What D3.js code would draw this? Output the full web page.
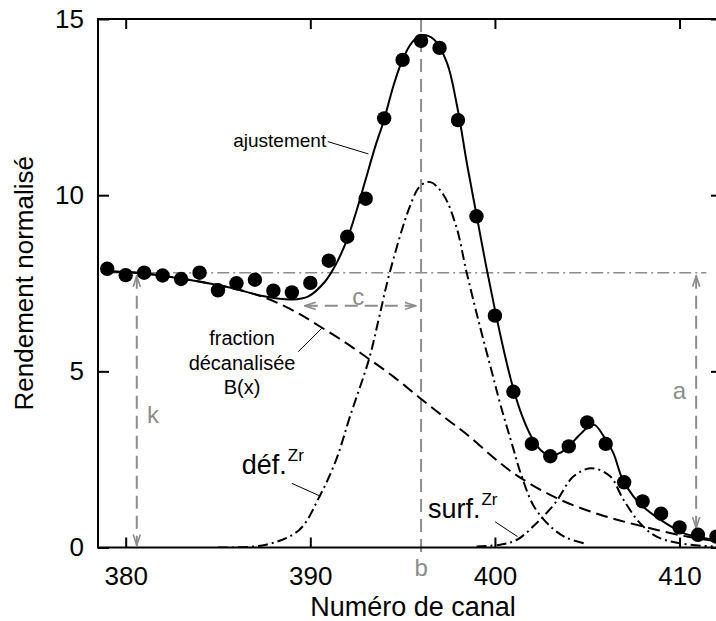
<!DOCTYPE html>
<html>
<head>
<meta charset="utf-8">
<script src="https://cdn.jsdelivr.net/npm/d3@7"></script>
<style>
  body { margin: 0; background: #fff; }
  svg { display: block; }
</style>
</head>
<body>
<svg width="716" height="621"></svg>
<script>
// measured points (channel number / normalised yield)
const channels = [379, 380, 381, 382, 383, 384, 385, 386, 387, 388, 389, 390, 391, 392, 393, 394, 395,
  396, 397, 398, 399, 400, 401, 402, 403, 404, 405, 406, 407, 408, 409, 410, 411, 412]
const yields = [7.91, 7.73, 7.80, 7.72, 7.62, 7.80, 7.30, 7.50, 7.60, 7.29, 7.24, 7.51, 8.14, 8.82, 9.90, 12.18, 13.84,
  14.38, 14.18, 12.13, 9.40, 6.58, 4.42, 2.94, 2.59, 2.87, 3.55, 2.94, 1.85, 1.31, 0.96, 0.57, 0.36, 0.31]

// fitted curve (ajustement)
const fitX = [379.0, 381.0, 383.4, 385.7, 387.5, 389.0, 389.9, 390.8, 391.4, 392.0, 392.5, 393.0, 393.5, 394.0,
  394.5, 395.0, 395.5, 396.0, 396.7, 397.4, 397.95, 398.5, 399.0, 399.5, 400.0, 400.5, 401.0, 401.5, 402.0,
  402.5, 403.0, 403.5, 404.0, 404.5, 405.1, 405.4, 405.9, 406.4, 406.9, 407.5, 408.0, 409.1, 410.2, 411.2, 412.3]
const fitY = [7.84, 7.78, 7.60, 7.37, 7.13, 7.04, 7.13, 7.55, 8.05, 8.75, 9.55, 10.45, 11.35, 12.15,
  13.10, 13.85, 14.33, 14.54, 14.42, 13.76, 12.53, 10.85, 9.45, 8.05, 6.75, 5.55, 4.50, 3.70, 3.12,
  2.75, 2.60, 2.68, 2.87, 3.15, 3.44, 3.48, 3.15, 2.70, 1.95, 1.45, 1.17, 0.74, 0.41, 0.28, 0.20]

// dechannelled fraction B(x)
const bgX = [379.0, 381.0, 383.4, 385.7, 387.5, 388.6, 389.5, 390.5, 391.8, 393.1, 394.5, 395.9, 397.2,
  398.5, 400.0, 401.2, 403.35, 405.7, 408.0, 410.4, 412.3]
const bgY = [7.84, 7.78, 7.60, 7.37, 7.10, 6.85, 6.60, 6.28, 5.85, 5.38, 4.85, 4.26, 3.72,
  3.20, 2.52, 2.04, 1.40, 0.93, 0.60, 0.31, 0.15]

// defect peak (déf. Zr)
const defX = [385.0, 387.6, 389.4, 390.5, 391.4, 392.15, 393.2, 393.7, 394.3, 395.4, 395.95, 396.5, 397.2, 397.9,
  398.47, 399.2, 399.8, 400.3, 401.0, 401.4, 402.1, 403.0, 403.9, 405.0]
const defY = [0.00, 0.08, 0.50, 1.45, 2.49, 3.72, 5.38, 6.47, 7.80, 9.69, 10.26, 10.37, 10.02, 9.12,
  7.80, 6.25, 5.05, 4.05, 2.80, 2.10, 1.18, 0.60, 0.27, 0.10]

// surface peak (surf. Zr)
const surfX = [399.0, 400.3, 401.2, 402.25, 403.26, 404.26, 405.24, 406.24, 406.96, 407.86, 408.76, 410.0, 411.8]
const surfY = [0.03, 0.08, 0.22, 0.69, 1.26, 2.02, 2.25, 2.02, 1.36, 0.69, 0.31, 0.12, 0.03]

const xTicks = [380, 390, 400, 410]
const yTicks = [0, 5, 10, 15]

// parameter markers
const kLevel = 7.8
const kChannel = 380.6
const aChannel = 410.9
const aBottom = 0.55
const bChannel = 396.0
const cLevel = 6.86
const cFrom = 389.7
const cTo = 395.7
const levelFrom = 379.0
const levelTo = 411.45

const svg = d3.select('svg')
const font = "'Liberation Sans', Arial, Helvetica, sans-serif"
const grey = '#8c8c8c'

const x = d3.scaleLinear().domain([378.5, 412.3]).range([98, 722])
const y = d3.scaleLinear().domain([0, 15]).range([547.5, 19])

const defs = svg.append('defs')
defs.append('clipPath').attr('id', 'plot')
  .append('rect')
  .attr('x', x.range()[0]).attr('y', y.range()[1])
  .attr('width', x.range()[1] - x.range()[0])
  .attr('height', y.range()[0] - y.range()[1])

defs.append('marker')
  .attr('id', 'head')
  .attr('viewBox', '0 0 12 10')
  .attr('refX', 11).attr('refY', 5)
  .attr('markerWidth', 12).attr('markerHeight', 10)
  .attr('markerUnits', 'userSpaceOnUse')
  .attr('orient', 'auto-start-reverse')
  .append('path')
  .attr('d', 'M0,1.4 L11,5 L0,8.6')
  .attr('fill', 'none')
  .attr('stroke', grey)
  .attr('stroke-width', 1.6)

const pts = (xs, ys) => xs.map((d, i) => [d, ys[i]])
const line = d3.line()
  .x(d => x(d[0]))
  .y(d => y(d[1]))
  .curve(d3.curveCatmullRom.alpha(0.5))

// grey annotations
const ann = svg.append('g').attr('stroke', grey).attr('fill', 'none')

ann.append('line')
  .attr('x1', x(levelFrom)).attr('x2', x(levelTo))
  .attr('y1', y(kLevel)).attr('y2', y(kLevel))
  .attr('stroke-width', 1.5)
  .attr('stroke-dasharray', '12,4,2,4')

ann.append('line')
  .attr('x1', x(bChannel)).attr('x2', x(bChannel))
  .attr('y1', y(15)).attr('y2', y(-0.16))
  .attr('stroke-width', 2)
  .attr('stroke-dasharray', '13,7')

const arrows = [
  { x1: kChannel, y1: kLevel - 0.09, x2: kChannel, y2: 0.06 },
  { x1: aChannel, y1: kLevel - 0.09, x2: aChannel, y2: aBottom },
  { x1: cFrom, y1: cLevel, x2: cTo, y2: cLevel }
]
ann.selectAll('.arrow')
  .data(arrows)
  .enter()
  .append('line')
  .attr('class', 'arrow')
  .attr('x1', d => x(d.x1)).attr('y1', d => y(d.y1))
  .attr('x2', d => x(d.x2)).attr('y2', d => y(d.y2))
  .attr('stroke-width', 2)
  .attr('stroke-dasharray', '13,7')
  .attr('marker-start', 'url(#head)')
  .attr('marker-end', 'url(#head)')

const annLabels = [
  { t: 'k', cx: 381.48, cy: 3.77 },
  { t: 'a', cx: 410.0, cy: 4.44 },
  { t: 'c', cx: 392.6, cy: 7.13 },
  { t: 'b', cx: 396.0, cy: -0.58 }
]
svg.append('g')
  .selectAll('text')
  .data(annLabels)
  .enter()
  .append('text')
  .attr('x', d => x(d.cx))
  .attr('y', d => y(d.cy))
  .attr('dy', '0.35em')
  .attr('text-anchor', 'middle')
  .attr('font-family', font)
  .attr('font-size', 24)
  .attr('fill', grey)
  .text(d => d.t)

// curves
const curves = svg.append('g').attr('clip-path', 'url(#plot)').attr('fill', 'none').attr('stroke', '#000')

curves.append('path')
  .attr('d', line(pts(bgX, bgY)))
  .attr('stroke-width', 2)
  .attr('stroke-dasharray', '12,6')

curves.append('path')
  .attr('d', line(pts(defX, defY)))
  .attr('stroke-width', 2)
  .attr('stroke-dasharray', '10,4,2,4')

curves.append('path')
  .attr('d', line(pts(surfX, surfY)))
  .attr('stroke-width', 2)
  .attr('stroke-dasharray', '10,4,2,4')

curves.append('path')
  .attr('d', line(pts(fitX, fitY)))
  .attr('stroke-width', 2)

// data points
svg.append('g')
  .selectAll('circle')
  .data(channels)
  .enter()
  .append('circle')
  .attr('cx', d => x(d))
  .attr('cy', (d, i) => y(yields[i]))
  .attr('r', 7.2)
  .attr('fill', '#000')

// leader lines and curve labels
const leaders = [
  [390.95, 11.52, 393.15, 11.17],
  [389.35, 5.56, 390.62, 6.22],
  [389.0, 1.82, 390.53, 1.46],
  [400.01, 0.73, 401.22, 0.31]
]
svg.append('g')
  .selectAll('line')
  .data(leaders)
  .enter()
  .append('line')
  .attr('x1', d => x(d[0])).attr('y1', d => y(d[1]))
  .attr('x2', d => x(d[2])).attr('y2', d => y(d[3]))
  .attr('stroke', '#000')
  .attr('stroke-width', 1)

const txt = (s, px, py, size, anchor) => svg.append('text')
  .attr('x', px).attr('y', py)
  .attr('font-family', font)
  .attr('font-size', size)
  .attr('text-anchor', anchor || 'start')
  .attr('fill', '#000')
  .text(s)

txt('ajustement', x(390.86), y(11.37), 19, 'end')
txt('fraction', x(386.3), y(5.75), 20, 'middle')
txt('décanalisée', x(386.3), y(5.04), 20, 'middle')
txt('B(x)', x(386.3), y(4.36), 20, 'middle')

const defLabel = txt('déf.', x(386.29), y(2.09), 27)
txt('Zr', x(386.29) + defLabel.node().getComputedTextLength() + 1, y(2.09) - 13, 17)
const surfLabel = txt('surf.', x(396.37), y(0.83), 27)
txt('Zr', x(396.37) + surfLabel.node().getComputedTextLength() + 1, y(0.83) - 13, 17)

// axes
const styleAxis = g => {
  g.select('.domain').remove()
  g.selectAll('line').attr('stroke', '#000').attr('stroke-width', 2)
  g.attr('font-family', font).attr('font-size', 26)
  g.selectAll('text').attr('fill', '#000')
}

svg.append('g')
  .attr('transform', `translate(0,${y(0)})`)
  .call(d3.axisBottom(x).tickValues(xTicks).tickSizeInner(-10).tickSizeOuter(0).tickPadding(19))
  .call(styleAxis)

svg.append('g')
  .attr('transform', `translate(0,${y(15)})`)
  .call(d3.axisTop(x).tickValues(xTicks).tickSizeInner(-10).tickSizeOuter(0).tickFormat(''))
  .call(styleAxis)

svg.append('g')
  .attr('transform', `translate(${x(378.5)},0)`)
  .call(d3.axisLeft(y).tickValues(yTicks).tickSizeInner(-11).tickSizeOuter(0).tickPadding(14))
  .call(styleAxis)

svg.append('g')
  .attr('transform', `translate(${x(412.3)},0)`)
  .call(d3.axisRight(y).tickValues(yTicks).tickSizeInner(-11).tickSizeOuter(0).tickFormat(''))
  .call(styleAxis)

svg.append('rect')
  .attr('x', x.range()[0]).attr('y', y.range()[1])
  .attr('width', x.range()[1] - x.range()[0])
  .attr('height', y.range()[0] - y.range()[1])
  .attr('fill', 'none')
  .attr('stroke', '#000')
  .attr('stroke-width', 2)

// axis titles
txt('Numéro de canal', 413, 616, 27, 'middle')
svg.append('text')
  .attr('transform', `translate(33,${(y(0) + y(15)) / 2}) rotate(-90)`)
  .attr('text-anchor', 'middle')
  .attr('font-family', font)
  .attr('font-size', 26)
  .attr('fill', '#000')
  .text('Rendement normalisé')
</script>
</body>
</html>
